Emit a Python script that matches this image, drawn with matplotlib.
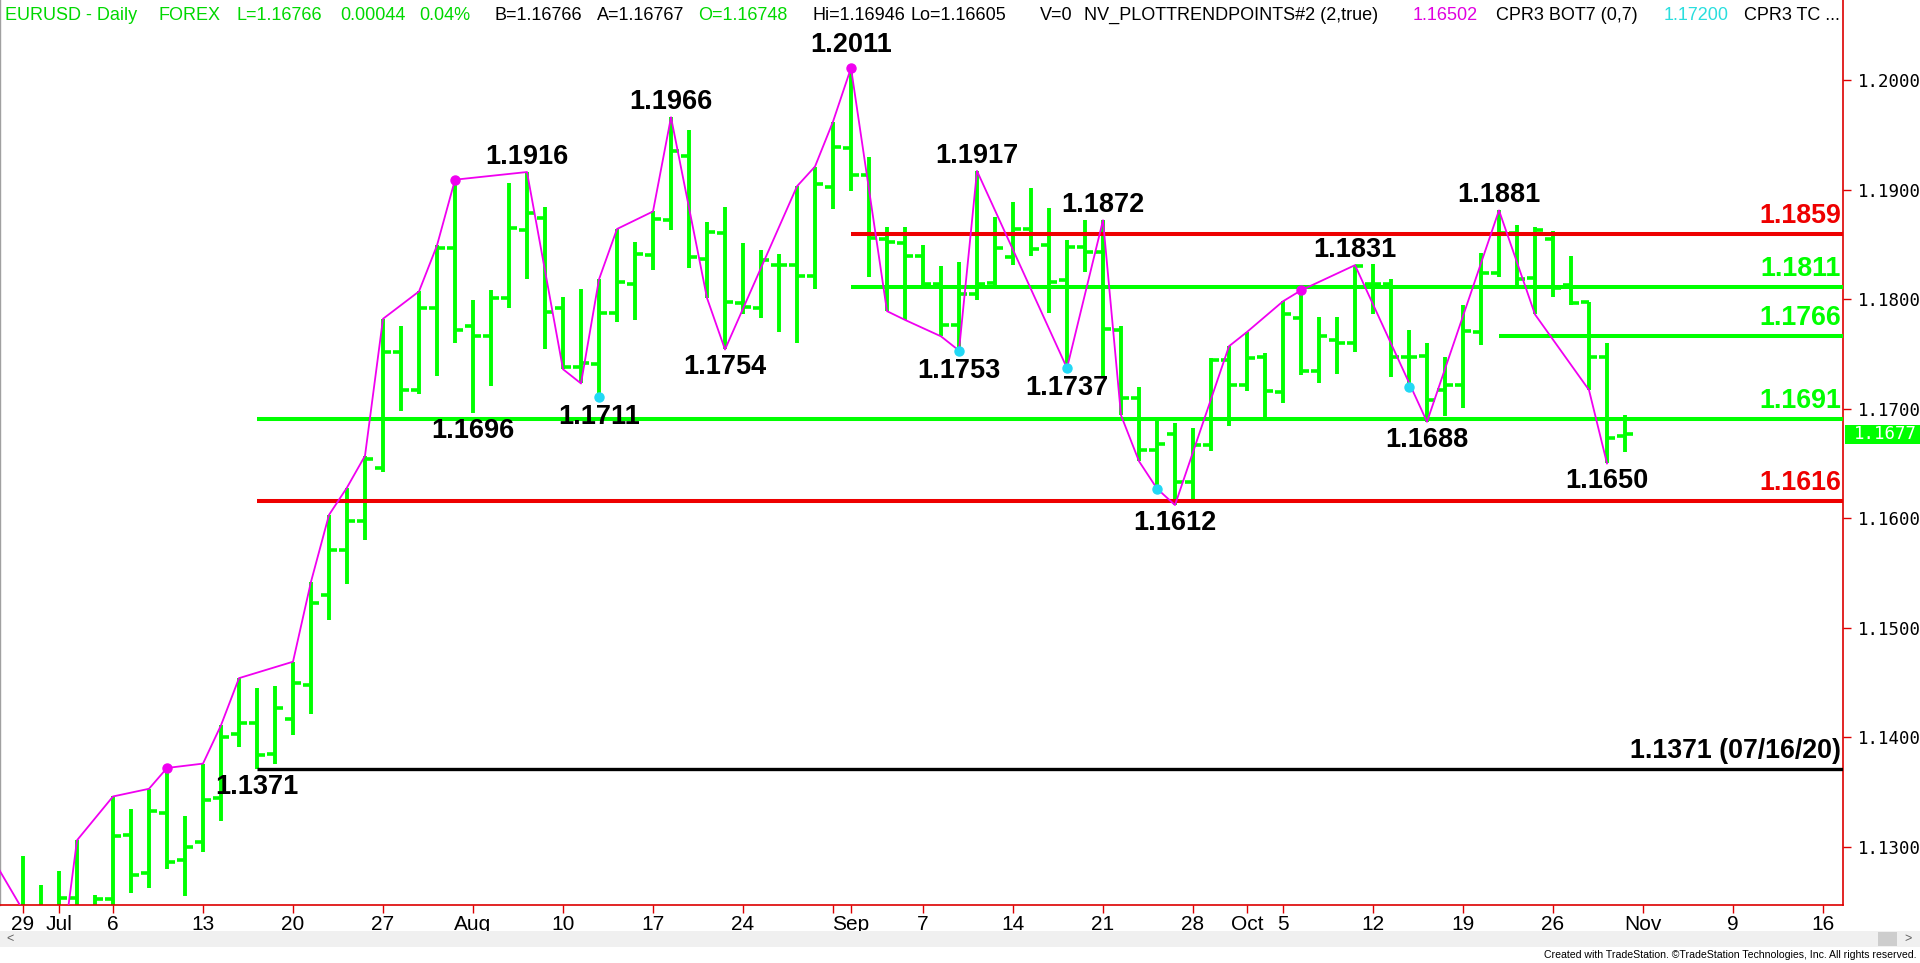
import numpy as np
import pandas as pd
import matplotlib
matplotlib.use("Agg")
import matplotlib.pyplot as plt
import matplotlib.transforms as mtransforms
from matplotlib.patches import Rectangle

# ---------------- data ----------------
start_date = "2020-06-29"
end_date = "2020-10-30"
dates = pd.bdate_range(start_date, end_date)   # daily forex bars (weekdays)

opens = [1.1220, 1.1238, 1.1232, 1.1253, 1.1240, 1.1252, 1.1311, 1.1276, 1.1331, 1.1288,
         1.1304, 1.1345, 1.1403, 1.1413, 1.1385, 1.1417, 1.1448, 1.1530, 1.1571, 1.1597,
         1.1646, 1.1752, 1.1717, 1.1792, 1.1847, 1.1775, 1.1766, 1.1801, 1.1863, 1.1874,
         1.1792, 1.1738, 1.1741, 1.1787, 1.1814, 1.1840, 1.1872, 1.1931, 1.1837, 1.1860,
         1.1796, 1.1792, 1.1831, 1.1831, 1.1821, 1.1902, 1.1938, 1.1913, 1.1855, 1.1851,
         1.1839, 1.1814, 1.1776, 1.1805, 1.1815, 1.1838, 1.1864, 1.1849, 1.1817, 1.1848,
         1.1843, 1.1772, 1.1710, 1.1662, 1.1677, 1.1633, 1.1667, 1.1744, 1.1722, 1.1747,
         1.1715, 1.1783, 1.1734, 1.1763, 1.1760, 1.1814, 1.1814, 1.1747, 1.1748, 1.1717,
         1.1722, 1.1770, 1.1824, 1.1860, 1.1819, 1.1855, 1.1813, 1.1797, 1.1747, 1.16748]
highs = [1.1292, 1.1265, 1.1278, 1.1306, 1.1256, 1.1346, 1.1335, 1.1353, 1.1372, 1.1328,
         1.1376, 1.1411, 1.1454, 1.1445, 1.1447, 1.1469, 1.1542, 1.1603, 1.1628, 1.1657,
         1.1782, 1.1775, 1.1807, 1.1849, 1.1909, 1.1799, 1.1808, 1.1906, 1.1916, 1.1884,
         1.1802, 1.1809, 1.1818, 1.1864, 1.1852, 1.1880, 1.1966, 1.1954, 1.1870, 1.1884,
         1.1851, 1.1845, 1.1841, 1.1903, 1.1921, 1.1962, 1.2011, 1.1930, 1.1866, 1.1866,
         1.1849, 1.1830, 1.1834, 1.1917, 1.1875, 1.1889, 1.1901, 1.1883, 1.1854, 1.1872,
         1.1872, 1.1775, 1.1720, 1.1690, 1.1687, 1.1682, 1.1746, 1.1757, 1.1770, 1.1751,
         1.1798, 1.1808, 1.1784, 1.1784, 1.1831, 1.1832, 1.1818, 1.1772, 1.1760, 1.1747,
         1.1795, 1.1842, 1.1881, 1.1868, 1.1866, 1.1862, 1.1839, 1.1797, 1.1760, 1.16946]
lows = [1.1210, 1.1190, 1.1180, 1.1230, 1.1225, 1.1240, 1.1258, 1.1262, 1.1280, 1.1255,
        1.1295, 1.1324, 1.1391, 1.1371, 1.1376, 1.1402, 1.1421, 1.1507, 1.1540, 1.1580,
        1.1642, 1.1698, 1.1713, 1.1730, 1.1760, 1.1696, 1.1721, 1.1792, 1.1818, 1.1754,
        1.1736, 1.1723, 1.1711, 1.1779, 1.1781, 1.1827, 1.1863, 1.1828, 1.1801, 1.1754,
        1.1786, 1.1783, 1.1770, 1.1760, 1.1809, 1.1882, 1.1899, 1.1820, 1.1789, 1.1781,
        1.1811, 1.1766, 1.1753, 1.1799, 1.1811, 1.1831, 1.1839, 1.1787, 1.1737, 1.1825,
        1.1729, 1.1694, 1.1652, 1.1627, 1.1612, 1.1615, 1.1661, 1.1684, 1.1716, 1.1692,
        1.1705, 1.1731, 1.1723, 1.1732, 1.1752, 1.1786, 1.1729, 1.1720, 1.1688, 1.1693,
        1.1701, 1.1758, 1.1820, 1.1811, 1.1786, 1.1802, 1.1795, 1.1717, 1.1650, 1.16605]
closes = [1.1238, 1.1232, 1.1253, 1.1238, 1.1252, 1.1310, 1.1274, 1.1333, 1.1286, 1.1300,
          1.1343, 1.1400, 1.1413, 1.1384, 1.1427, 1.1450, 1.1523, 1.1571, 1.1597, 1.1654,
          1.1752, 1.1717, 1.1792, 1.1847, 1.1772, 1.1766, 1.1801, 1.1865, 1.1879, 1.1788,
          1.1738, 1.1742, 1.1787, 1.1816, 1.1841, 1.1873, 1.1935, 1.1838, 1.1861, 1.1797,
          1.1793, 1.1836, 1.1831, 1.1821, 1.1905, 1.1939, 1.1913, 1.1856, 1.1852, 1.1839,
          1.1814, 1.1776, 1.1805, 1.1814, 1.1847, 1.1864, 1.1846, 1.1816, 1.1848, 1.1843,
          1.1773, 1.1710, 1.1662, 1.1668, 1.1633, 1.1667, 1.1744, 1.1722, 1.1746, 1.1716,
          1.1786, 1.1734, 1.1766, 1.1760, 1.1830, 1.1814, 1.1747, 1.1747, 1.1708, 1.1722,
          1.1771, 1.1824, 1.1860, 1.1818, 1.1863, 1.1810, 1.1796, 1.1747, 1.1673, 1.16766]

# trend-point zigzag (bar index, price)
zz_idx = [-2, 1, 2, 3, 5, 7, 8, 10, 11, 12, 15, 16, 17, 18, 19, 20, 22, 23, 24, 28,
          30, 31, 32, 33, 35, 36, 38, 39, 43, 44, 45, 46, 48, 49, 51, 52, 53, 58, 60, 61,
          62, 63, 64, 67, 68, 70, 71, 74, 78, 82, 84, 87, 88]
zz_px = [1.1298, 1.1214, 1.1180, 1.1306, 1.1346, 1.1353, 1.1372, 1.1376, 1.1411, 1.1454,
         1.1469, 1.1542, 1.1603, 1.1628, 1.1657, 1.1782, 1.1807, 1.1849, 1.1909, 1.1916,
         1.1736, 1.1723, 1.1818, 1.1864, 1.1880, 1.1966, 1.1801, 1.1754, 1.1903, 1.1921,
         1.1962, 1.2011, 1.1789, 1.1781, 1.1766, 1.1753, 1.1917, 1.1737, 1.1872, 1.1694,
         1.1652, 1.1627, 1.1612, 1.1757, 1.1770, 1.1798, 1.1808, 1.1831, 1.1688, 1.1881,
         1.1786, 1.1717, 1.1650]

pink_idx = [8, 24, 46, 71]
pink_px = [1.1372, 1.1909, 1.2011, 1.1808]
cyan_idx = [32, 52, 58, 63, 77]
cyan_px = [1.1711, 1.1753, 1.1737, 1.1627, 1.1720]

swing_hi_idx = [28, 36, 46, 53, 60, 74, 82]
swing_hi_txt = ["1.1916", "1.1966", "1.2011", "1.1917", "1.1872", "1.1831", "1.1881"]
swing_lo_idx = [13, 25, 32, 39, 52, 58, 64, 78, 88]
swing_lo_txt = ["1.1371", "1.1696", "1.1711", "1.1754", "1.1753", "1.1737", "1.1612", "1.1688", "1.1650"]

level_prices = [1.1859, 1.1811, 1.1766, 1.1691, 1.1616, 1.1371]
level_start = [46, 46, 82, 13, 13, 13]
level_labels = ["1.1859", "1.1811", "1.1766", "1.1691", "1.1616", "1.1371 (07/16/20)"]
level_kind = ["red", "green", "green", "green", "red", "black"]

ytick_vals = [1.13, 1.14, 1.15, 1.16, 1.17, 1.18, 1.19, 1.20]
xtick_dates = ["2020-06-29", "2020-07-01", "2020-07-06", "2020-07-13", "2020-07-20", "2020-07-27",
               "2020-08-03", "2020-08-10", "2020-08-17", "2020-08-24", "2020-08-31", "2020-09-01",
               "2020-09-07", "2020-09-14", "2020-09-21", "2020-09-28", "2020-10-01", "2020-10-05",
               "2020-10-12", "2020-10-19", "2020-10-26", "2020-11-02", "2020-11-09", "2020-11-16"]
xtick_labels = ["29", "Jul", "6", "13", "20", "27", "Aug", "10", "17", "24", "", "Sep", "7",
                "14", "21", "28", "Oct", "5", "12", "19", "26", "Nov", "9", "16"]

last_price = 1.16766
last_label = "1.1677"

header = [("EURUSD - Daily", "g"), ("FOREX", "g"), ("L=1.16766", "g"), ("0.00044", "g"),
          ("0.04%", "g"), ("B=1.16766", "k"), ("A=1.16767", "k"), ("O=1.16748", "g"),
          ("Hi=1.16946", "k"), ("Lo=1.16605", "k"), ("V=0", "k"),
          ("NV_PLOTTRENDPOINTS#2 (2,true)", "k"), ("1.16502", "m"), ("CPR3 BOT7 (0,7)", "k"),
          ("1.17200", "c"), ("CPR3 TC ...", "k")]
header_x = [5, 158, 236, 340, 419, 495, 597, 698, 812, 911, 1040, 1084, 1413, 1496, 1664, 1744]

# ---------------- style ----------------
GREEN = "#00ff00"
RED = "#ee0000"
MAG = "#f000f0"
CYAN = "#22d8f5"
HDR_G = "#00d800"
kind_color = {"red": RED, "green": GREEN, "black": "black"}
hdr_color = {"g": HDR_G, "k": "black", "m": "#e000e0", "c": "#2adede"}
FONT = ["Liberation Sans", "DejaVu Sans"]
NARROW = ["Liberation Sans Narrow", "Liberation Sans", "DejaVu Sans"]

W, H, DPI = 1920, 963, 100
fig = plt.figure(figsize=(W / DPI, H / DPI), dpi=DPI, facecolor="white")

def fx(px):
    return px / W

def fy(py):
    return 1 - py / H

AX_R, AX_B = 1843, 905
ax = fig.add_axes([0, fy(AX_B), AX_R / W, AX_B / H])
ax.set_facecolor("white")

# scale: 18 px per trading day, first bar at 23 px; 10955 px per 1.0 price, 1.2000 at y=80
day_px, x0_px = 18.0, 23.0
ppu, y12 = 10955.0, 80.0
ax.set_xlim(-x0_px / day_px, (AX_R - x0_px) / day_px)
ax.set_ylim(1.2 - (AX_B - y12) / ppu, 1.2 + y12 / ppu)

x = np.busday_count(np.datetime64(start_date), dates.values.astype("datetime64[D]"))
o = np.array(opens); h = np.array(highs); l = np.array(lows); c = np.array(closes)

bars = ax.vlines(x, l, h, colors=GREEN, linewidth=2.8, zorder=2)
lt = ax.hlines(o, x - 0.46, x, colors=GREEN, linewidth=2.6, zorder=2)
rt = ax.hlines(c, x, x + 0.46, colors=GREEN, linewidth=2.6, zorder=2)
for coll in (bars, lt, rt):
    coll.set_capstyle("butt")

xmax = ax.get_xlim()[1]
for p, s, lab, k in zip(level_prices, level_start, level_labels, level_kind):
    col = kind_color[k]
    ln = ax.hlines(p, s, xmax, colors=col, linewidth=2.9 if k != "black" else 2.4, zorder=3)
    ln.set_capstyle("butt")
    ax.annotate(lab, xy=(1, p), xycoords=("axes fraction", "data"), xytext=(-2, 18),
                textcoords="offset pixels", ha="right", va="center", color=col,
                fontsize=19.3, fontweight="bold", family=FONT, zorder=6,
                annotation_clip=False)

ax.plot(zz_idx, zz_px, color=MAG, linewidth=1.3, zorder=4)
ax.plot(pink_idx, pink_px, "o", color=MAG, markersize=6.5, zorder=5)
ax.plot(cyan_idx, cyan_px, "o", color=CYAN, markersize=6.5, zorder=5)

for i, t in zip(swing_hi_idx, swing_hi_txt):
    off = 15 + (8 if i in pink_idx else 0)
    ax.annotate(t, xy=(i, h[i]), xytext=(0, off), textcoords="offset pixels",
                ha="center", va="center", fontsize=19.5, fontweight="bold",
                family=FONT, color="black", zorder=6)
for i, t in zip(swing_lo_idx, swing_lo_txt):
    off = 18 + (2 if i in cyan_idx else 0)
    ax.annotate(t, xy=(i, l[i]), xytext=(0, -off), textcoords="offset pixels",
                ha="center", va="center", fontsize=19.5, fontweight="bold",
                family=FONT, color="black", zorder=6)

# axes frame
ax.spines["top"].set_visible(False)
ax.spines["left"].set_color("#a0a0a0")
ax.spines["left"].set_linewidth(1.0)
for s in ("right", "bottom"):
    ax.spines[s].set_color("#dd0000")
    ax.spines[s].set_linewidth(1.2)

ax.yaxis.tick_right()
ax.set_yticks(ytick_vals)
ax.set_yticklabels([f"{v:.4f}" for v in ytick_vals])
ax.tick_params(axis="y", which="both", direction="out", length=6, width=1.0,
               color="#dd0000", labelcolor="black", labelsize=12.5, pad=5)
for t in ax.get_yticklabels():
    t.set_family(["DejaVu Sans Mono"])

xt = np.busday_count(np.datetime64(start_date), np.array(xtick_dates, dtype="datetime64[D]"))
ax.set_xticks(xt)
ax.set_xticklabels(xtick_labels)
ax.tick_params(axis="x", direction="out", length=6, width=1.0, color="#dd0000",
               labelcolor="black", labelsize=15, pad=1.5)
for t in ax.get_xticklabels():
    t.set_family(NARROW)

# last price box on the price axis
blend = mtransforms.blended_transform_factory(ax.transAxes, ax.transData)
ax.add_patch(Rectangle((1.001, last_price - 0.00087), W / AX_R - 1.001, 0.00174,
                       transform=blend, facecolor=GREEN, edgecolor="none",
                       clip_on=False, zorder=7))
ax.text(1885 / AX_R, last_price, last_label, transform=blend, ha="center", va="center",
        color="white", fontsize=12.5, family=["DejaVu Sans Mono"], zorder=8, clip_on=False)

# header line
for (s, k), px in zip(header, header_x):
    fig.text(fx(px), fy(15), s, color=hdr_color[k], fontsize=13, family=FONT,
             ha="left", va="center")

# scroll bar
fig.patches.append(Rectangle((0, fy(947)), 1, (947 - 931) / H, transform=fig.transFigure,
                             facecolor="#f0f0f0", edgecolor="none"))
fig.patches.append(Rectangle((fx(1878), fy(946)), 19 / W, 14 / H, transform=fig.transFigure,
                             facecolor="#cdcdcd", edgecolor="none"))
fig.text(fx(6), fy(939), "<", fontsize=9, color="#606060", ha="left", va="center", family=FONT)
fig.text(fx(1912), fy(939), ">", fontsize=9, color="#606060", ha="right", va="center", family=FONT)

fig.text(fx(1916), fy(955),
         "Created with TradeStation. \u00a9TradeStation Technologies, Inc. All rights reserved.",
         fontsize=7.6, color="black", ha="right", va="center", family=NARROW)

fig.savefig("out.png", dpi=DPI, facecolor="white")
